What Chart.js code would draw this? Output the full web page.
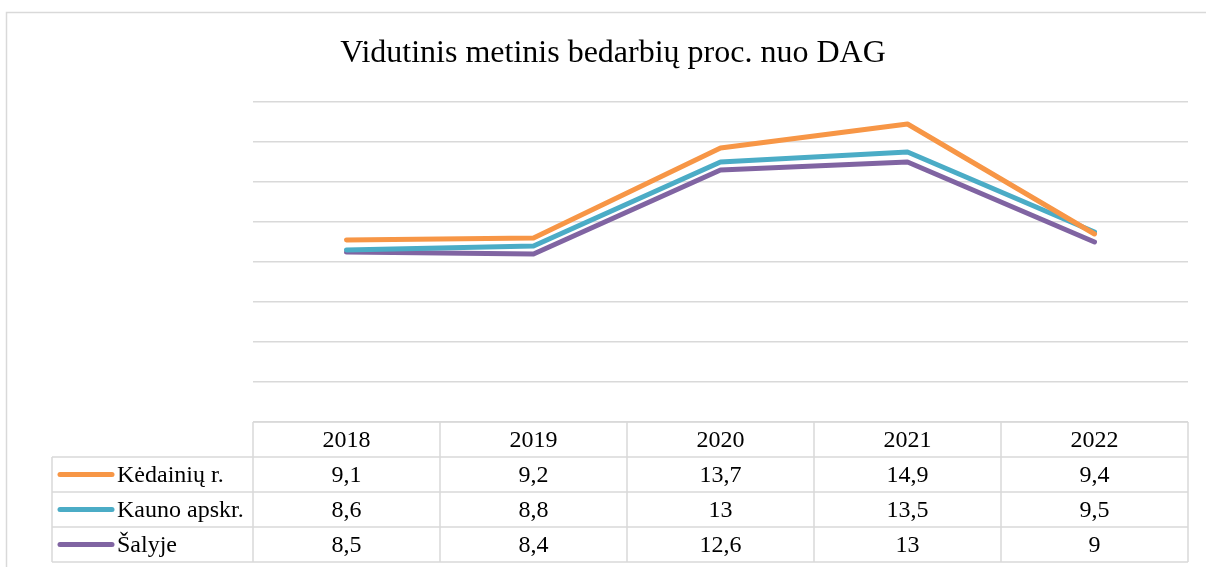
<!DOCTYPE html>
<html>
<head>
<meta charset="utf-8">
<script src="https://cdn.jsdelivr.net/npm/chart.js@4"></script>
<style>
  html, body { margin: 0; padding: 0; background: #fff; }
  #wrap { width: 1206px; height: 567px; position: relative; }
</style>
</head>
<body>
<div id="wrap"><canvas id="lineChart"></canvas></div>
<script>
// duomenys
var years = ["2018", "2019", "2020", "2021", "2022"];
var seriesNames = ["Kėdainių r.", "Kauno apskr.", "Šalyje"];
var kedainiai = [9.1, 9.2, 13.7, 14.9, 9.4];
var kaunas = [8.6, 8.8, 13, 13.5, 9.5];
var salyje = [8.5, 8.4, 12.6, 13, 9];
var colors = ["#F79646", "#4BACC6", "#8064A2"];
var titleText = "Vidutinis metinis bedarbių proc. nuo DAG";

var serif = "'Liberation Serif', 'Times New Roman', serif";
var gridColor = "#d9d9d9";

var fmt = function (v) {
    return String(v).replace('.', ',');
};

// remelis + pavadinimas
var framePlugin = {
    id: 'frame',
    beforeDraw: function (chart) {
        var ctx = chart.ctx;
        ctx.save();
        ctx.fillStyle = '#fff';
        ctx.fillRect(0, 0, chart.width, chart.height);
        ctx.strokeStyle = gridColor;
        ctx.lineWidth = 1.5;
        ctx.strokeRect(6.5, 12.5, 1220, 600);
        ctx.fillStyle = '#000';
        ctx.font = '32px ' + serif;
        ctx.textAlign = 'center';
        ctx.textBaseline = 'alphabetic';
        ctx.fillText(titleText, 613, 62);
        ctx.restore();
    }
};

// duomenu lentele po grafiku
var tablePlugin = {
    id: 'dataTable',
    afterDraw: function (chart) {
        var ctx = chart.ctx;
        var area = chart.chartArea;
        var x = chart.scales.x;
        var n = years.length;
        var colW = (area.right - area.left) / n;
        var rowH = 35;
        var top = area.bottom;
        var labelLeft = 52;
        var rows = [kedainiai, kaunas, salyje];
        var bottom = top + rowH * (rows.length + 1);

        ctx.save();
        ctx.strokeStyle = gridColor;
        ctx.lineWidth = 1.5;
        ctx.beginPath();
        // horizontalios
        ctx.moveTo(area.left, top);
        ctx.lineTo(area.right, top);
        for (var r = 1; r <= rows.length + 1; r++) {
            ctx.moveTo(labelLeft, top + r * rowH);
            ctx.lineTo(area.right, top + r * rowH);
        }
        // vertikalios
        ctx.moveTo(labelLeft, top + rowH);
        ctx.lineTo(labelLeft, bottom);
        for (var c = 0; c <= n; c++) {
            var cx = area.left + c * colW;
            ctx.moveTo(cx, top);
            ctx.lineTo(cx, bottom);
        }
        ctx.stroke();

        ctx.fillStyle = '#000';
        ctx.font = '24px ' + serif;
        ctx.textAlign = 'center';
        ctx.textBaseline = 'middle';
        for (var i = 0; i < n; i++) {
            var px = x.getPixelForValue(i);
            ctx.fillText(years[i], px, top + rowH / 2 + 1);
            for (var j = 0; j < rows.length; j++) {
                ctx.fillText(fmt(rows[j][i]), px, top + (j + 1.5) * rowH + 1);
            }
        }

        ctx.textAlign = 'left';
        for (var k = 0; k < rows.length; k++) {
            var cy = top + (k + 1.5) * rowH;
            ctx.strokeStyle = colors[k];
            ctx.lineWidth = 5;
            ctx.lineCap = 'round';
            ctx.beginPath();
            ctx.moveTo(60, cy);
            ctx.lineTo(112, cy);
            ctx.stroke();
            ctx.fillText(seriesNames[k], 117, cy + 1);
        }
        ctx.restore();
    }
};

var lineData = {
    labels: years,
    datasets: [
        {label: seriesNames[0], data: kedainiai, borderColor: colors[0], backgroundColor: colors[0]},
        {label: seriesNames[1], data: kaunas, borderColor: colors[1], backgroundColor: colors[1]},
        {label: seriesNames[2], data: salyje, borderColor: colors[2], backgroundColor: colors[2]}
    ]
};

var lineOptions = {
    responsive: true,
    maintainAspectRatio: false,
    animation: false,
    layout: {padding: {left: 253, right: 18, top: 102, bottom: 145}},
    elements: {
        line: {borderWidth: 5, tension: 0, borderCapStyle: 'round', borderJoinStyle: 'round'},
        point: {radius: 0, hoverRadius: 0}
    },
    plugins: {legend: {display: false}, title: {display: false}, tooltip: {enabled: false}},
    scales: {
        x: {display: false, offset: true},
        y: {
            min: 0, max: 16,
            ticks: {display: false, stepSize: 2},
            border: {display: false},
            grid: {color: gridColor, lineWidth: 1.5, drawTicks: false},
            afterFit: function (s) { s.width = 0; }
        }
    }
};

var ctx = document.getElementById("lineChart").getContext("2d");
new Chart(ctx, {type: 'line', data: lineData, options: lineOptions, plugins: [framePlugin, tablePlugin]});
</script>
</body>
</html>
